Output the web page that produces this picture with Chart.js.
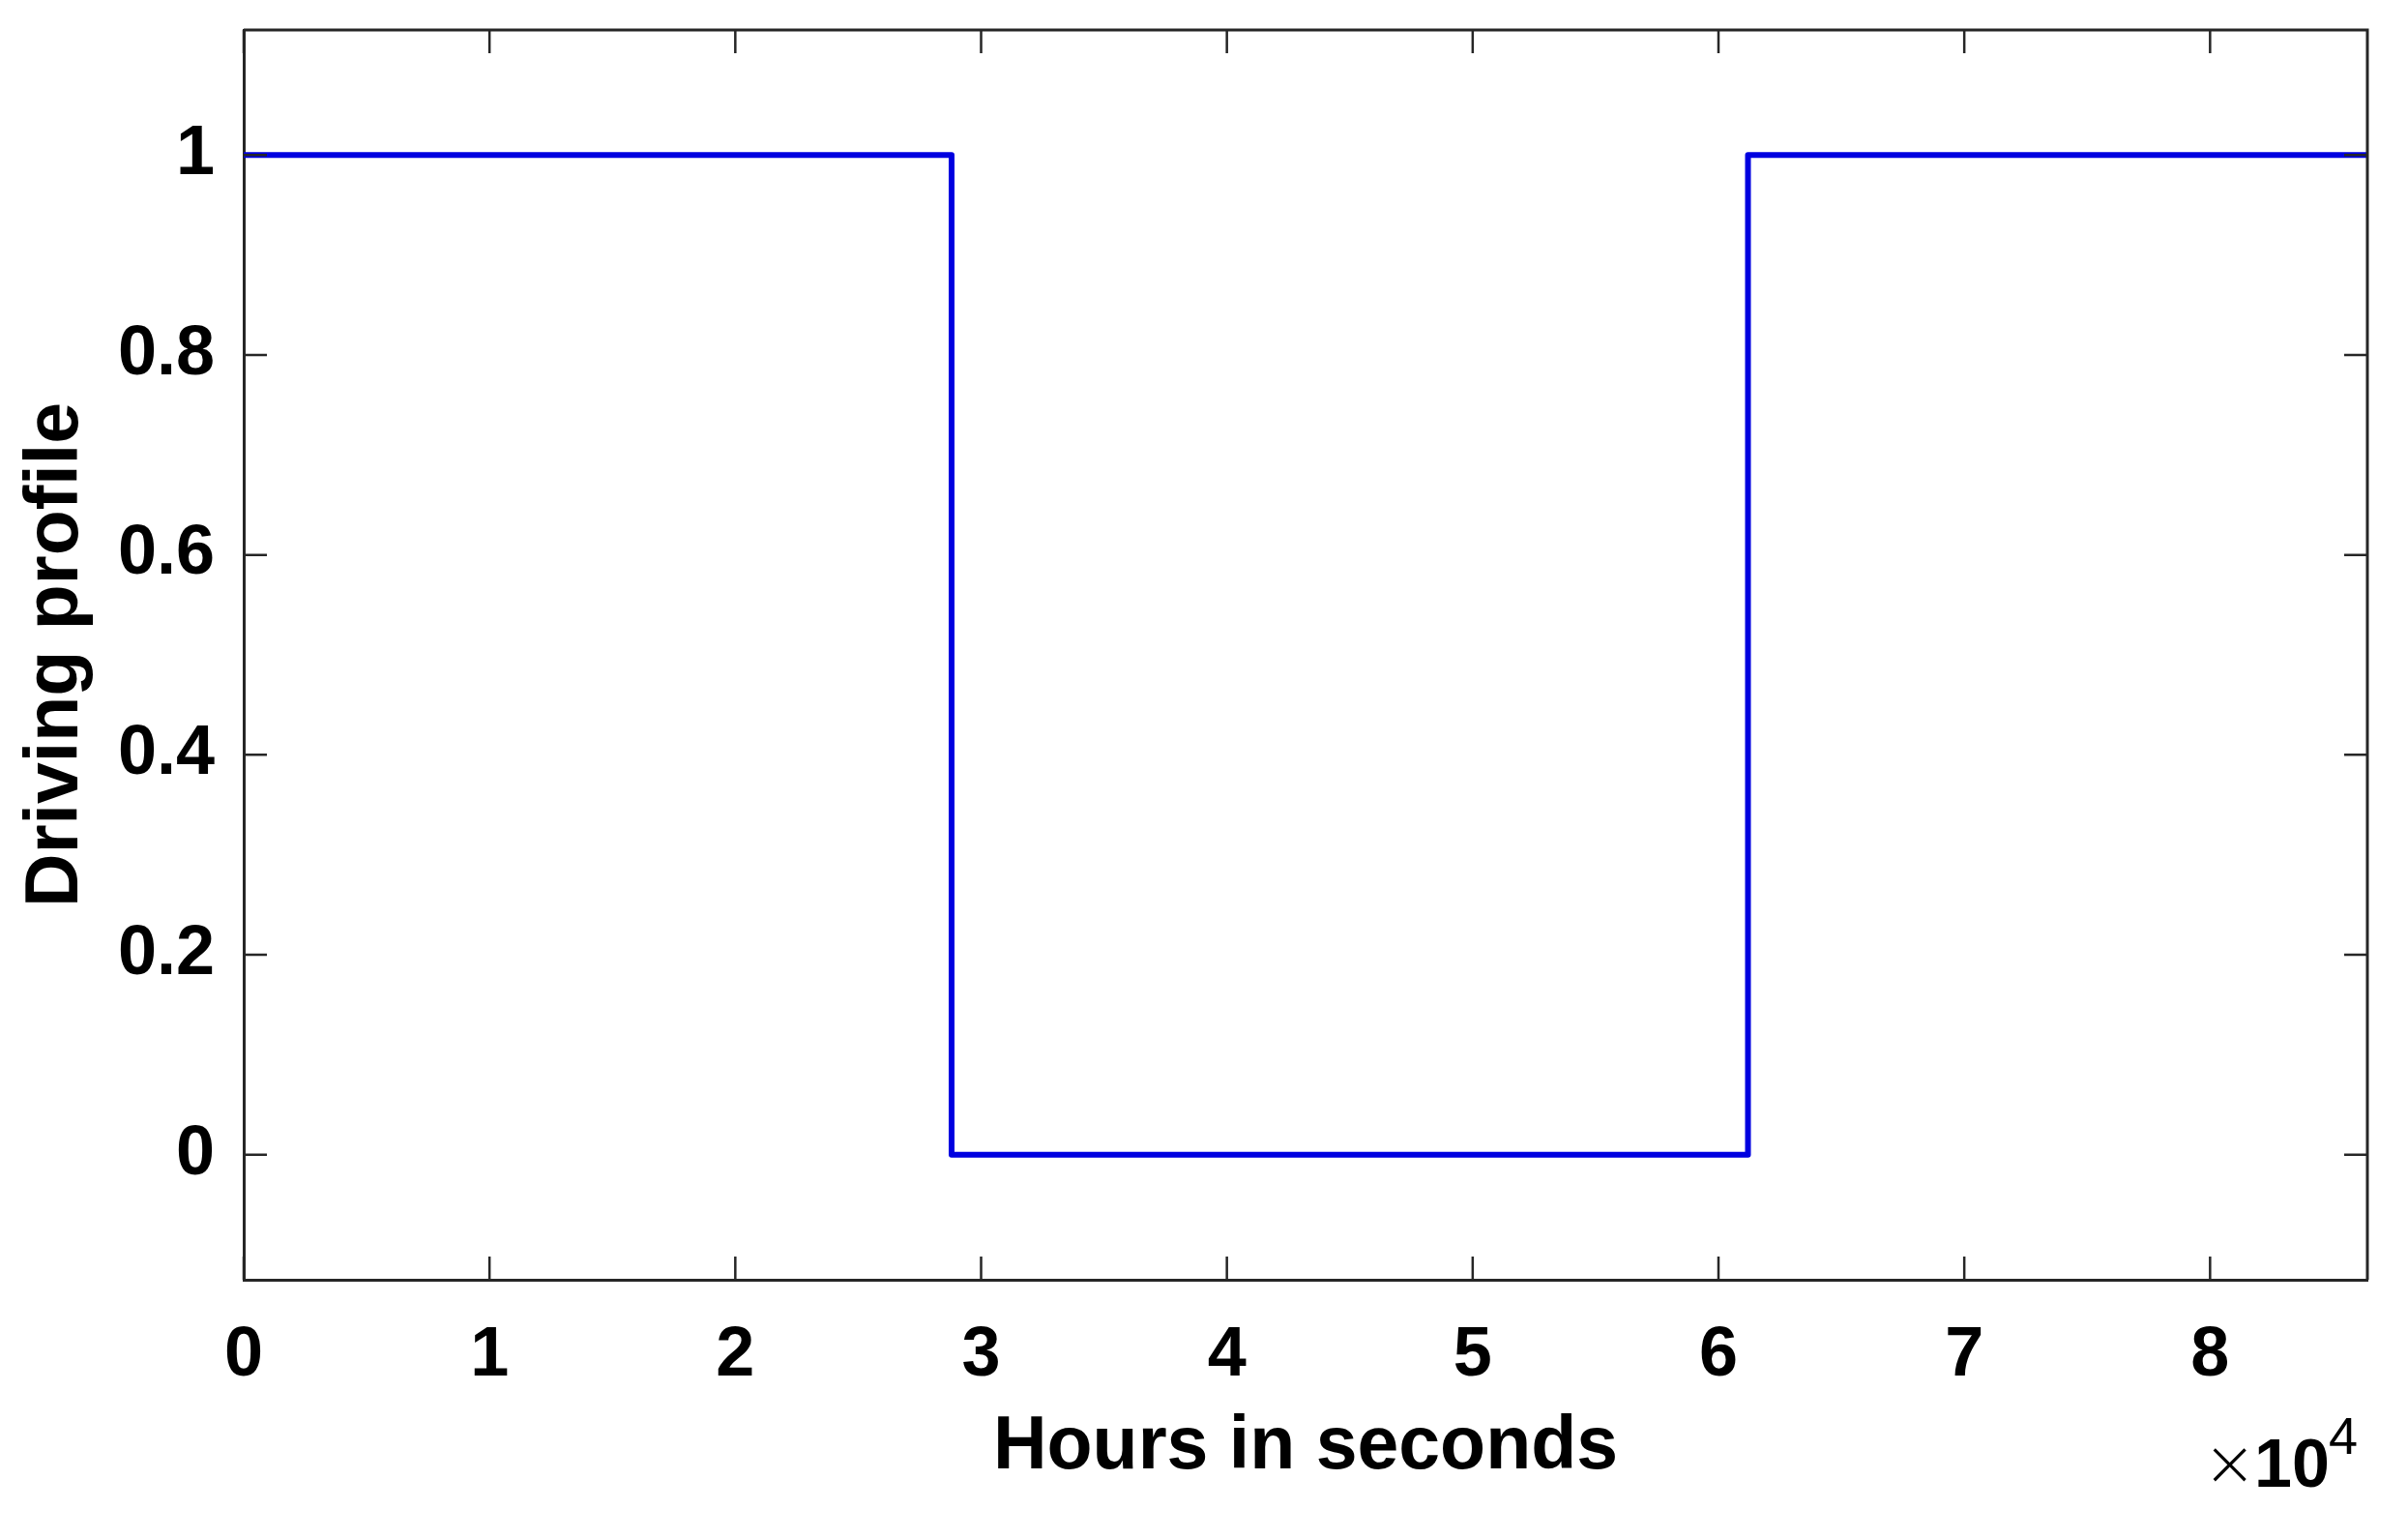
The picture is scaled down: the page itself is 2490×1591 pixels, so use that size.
<!DOCTYPE html>
<html>
<head>
<meta charset="utf-8">
<title>Driving profile</title>
<script src="https://cdn.jsdelivr.net/npm/chart.js@4.4.1/dist/chart.umd.min.js"></script>
<style>
  html, body { margin: 0; padding: 0; background: #fff; }
  #wrap { width: 2490px; height: 1591px; }
</style>
</head>
<body>
<div id="wrap"><canvas id="profileChart" width="2490" height="1591"></canvas></div>
<script>
// time in seconds and profile value (step: off between 8h and 17h)
const seconds = [0, 28800, 28800, 61200, 61200, 86400];
const profile = [1, 1, 0, 0, 1, 1];

const xTicks = [0, 10000, 20000, 30000, 40000, 50000, 60000, 70000, 80000];
const yTicks = [0, 0.2, 0.4, 0.6, 0.8, 1];

const FONT = "'Liberation Sans', Arial, Helvetica, sans-serif";
const AXIS_COLOR = "#262626";

const points = seconds.map((s, i) => ({ x: s, y: profile[i] }));

// inward tick marks on all four sides, plus top/right box lines and the x10^4 label
const boxPlugin = {
  id: "boxPlugin",
  afterDraw(chart) {
    const { ctx, chartArea: a, scales } = chart;
    const len = 24;
    ctx.save();
    ctx.strokeStyle = AXIS_COLOR;
    ctx.lineWidth = 3;
    ctx.beginPath();
    ctx.moveTo(a.left, a.top);
    ctx.lineTo(a.right, a.top);
    ctx.lineTo(a.right, a.bottom);
    ctx.stroke();

    ctx.lineWidth = 2.5;
    ctx.beginPath();
    xTicks.forEach(v => {
      const px = scales.x.getPixelForValue(v);
      ctx.moveTo(px, a.bottom); ctx.lineTo(px, a.bottom - len);
      ctx.moveTo(px, a.top); ctx.lineTo(px, a.top + len);
    });
    yTicks.forEach(v => {
      const py = scales.y.getPixelForValue(v);
      ctx.moveTo(a.left, py); ctx.lineTo(a.left + len, py);
      ctx.moveTo(a.right, py); ctx.lineTo(a.right - len, py);
    });
    ctx.stroke();

    // exponent label
    ctx.fillStyle = "#000";
    ctx.textBaseline = "alphabetic";
    ctx.textAlign = "left";
    const base = 1537;
    ctx.font = "200 66px 'DejaVu Sans', " + FONT;
    ctx.fillText("\u00d7", 2278, base - 2);
    ctx.font = "bold 70px " + FONT;
    ctx.fillText("10", 2331, base);
    ctx.font = "54px " + FONT;
    ctx.fillText("4", 2408, 1503);
    ctx.restore();
  }
};

const ctx = document.getElementById("profileChart").getContext("2d");

new Chart(ctx, {
  type: "line",
  data: {
    datasets: [{
      data: points,
      borderColor: "#0000e0",
      borderWidth: 6,
      pointRadius: 0,
      tension: 0,
      fill: false,
      borderJoinStyle: "round"
    }]
  },
  options: {
    responsive: false,
    animation: false,
    devicePixelRatio: 1,
    layout: { padding: { top: 31, right: 42, left: 0, bottom: 0 } },
    plugins: {
      legend: { display: false },
      tooltip: { enabled: false }
    },
    scales: {
      x: {
        type: "linear",
        min: 0,
        max: 86400,
        afterFit(scale) {
          scale.height = 268;
          scale.paddingLeft = 0;
          scale.paddingRight = 0;
        },
        afterBuildTicks(scale) { scale.ticks = xTicks.map(v => ({ value: v })); },
        grid: { display: false, drawTicks: false },
        border: { display: true, color: AXIS_COLOR, width: 3 },
        ticks: {
          color: "#000",
          padding: 36,
          maxRotation: 0,
          font: { family: FONT, size: 72, weight: "bold" },
          callback: v => String(v / 10000)
        },
        title: {
          display: true,
          text: "Hours in seconds",
          color: "#000",
          font: { family: FONT, size: 77, weight: "bold" },
          padding: { top: 0, bottom: 48 }
        }
      },
      y: {
        type: "linear",
        min: -0.125,
        max: 1.125,
        afterFit(scale) {
          scale.width = 252;
          scale.paddingTop = 0;
          scale.paddingBottom = 0;
        },
        afterBuildTicks(scale) { scale.ticks = yTicks.map(v => ({ value: v })); },
        grid: { display: false, drawTicks: false },
        border: { display: true, color: AXIS_COLOR, width: 3 },
        ticks: {
          color: "#000",
          padding: 30,
          font: { family: FONT, size: 72, weight: "bold" },
          callback: v => String(Number(v.toFixed(1)))
        },
        title: {
          display: true,
          text: "Driving profile",
          color: "#000",
          font: { family: FONT, size: 77, weight: "bold" },
          padding: { top: 13, bottom: 0 }
        }
      }
    }
  },
  plugins: [boxPlugin]
});
</script>
</body>
</html>
